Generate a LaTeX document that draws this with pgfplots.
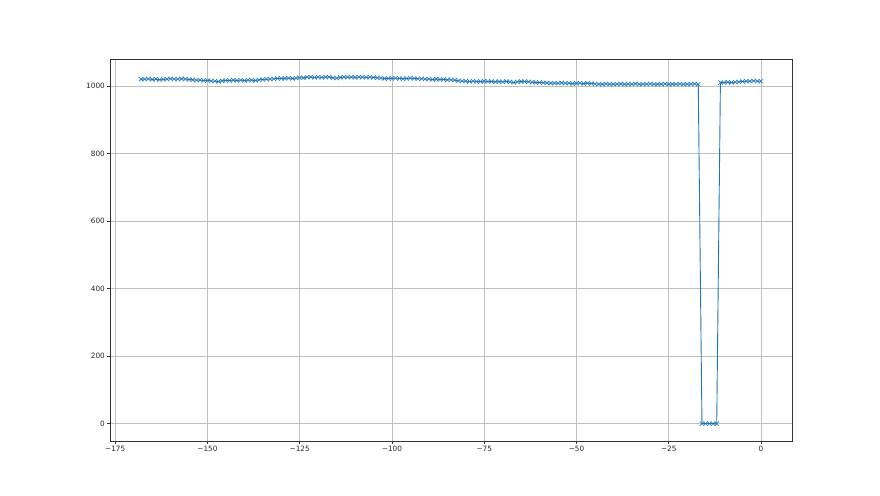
\documentclass[border=0pt]{standalone}
\usepackage{fontspec}
\setmainfont{DejaVu Sans}
\usepackage{pgfplots}
\pgfplotsset{compat=1.18}
\pgfplotstableread{
x y
-168 1020
-167 1020
-166 1021
-165 1019
-164 1020
-163 1018
-162 1019
-161 1020
-160 1021
-159 1020
-158 1020
-157 1021
-156 1020
-155 1019
-154 1018
-153 1017
-152 1017
-151 1016
-150 1016
-149 1015
-148 1014
-147 1013
-146 1015
-145 1016
-144 1016
-143 1017
-142 1016
-141 1017
-140 1016
-139 1017
-138 1017
-137 1016
-136 1018
-135 1019
-134 1020
-133 1020
-132 1021
-131 1022
-130 1022
-129 1022
-128 1023
-127 1022
-126 1023
-125 1024
-124 1024
-123 1026
-122 1026
-121 1025
-120 1026
-119 1025
-118 1026
-117 1026
-116 1024
-115 1023
-114 1025
-113 1026
-112 1026
-111 1026
-110 1025
-109 1026
-108 1026
-107 1025
-106 1026
-105 1025
-104 1024
-103 1023
-102 1022
-101 1022
-100 1022
-99 1023
-98 1022
-97 1021
-96 1022
-95 1023
-94 1022
-93 1021
-92 1021
-91 1020
-90 1020
-89 1019
-88 1020
-87 1019
-86 1019
-85 1018
-84 1018
-83 1017
-82 1015
-81 1014
-80 1014
-79 1013
-78 1014
-77 1013
-76 1013
-75 1014
-74 1013
-73 1013
-72 1012
-71 1013
-70 1012
-69 1013
-68 1012
-67 1010
-66 1012
-65 1013
-64 1013
-63 1012
-62 1011
-61 1010
-60 1010
-59 1009
-58 1009
-57 1008
-56 1008
-55 1008
-54 1009
-53 1008
-52 1008
-51 1007
-50 1008
-49 1008
-48 1007
-47 1008
-46 1007
-45 1006
-44 1005
-43 1005
-42 1006
-41 1005
-40 1005
-39 1005
-38 1006
-37 1005
-36 1005
-35 1005
-34 1006
-33 1005
-32 1005
-31 1005
-30 1006
-29 1005
-28 1005
-27 1005
-26 1006
-25 1005
-24 1005
-23 1005
-22 1006
-21 1005
-20 1005
-19 1005
-18 1006
-17 1005
-16 0
-15 0
-14 0
-13 0
-12 0
-11 1010
-10 1010
-9 1011
-8 1010
-7 1011
-6 1012
-5 1013
-4 1014
-3 1014
-2 1015
-1 1014
0 1014
}\datatable
\definecolor{mplblue}{RGB}{31,119,180}
\begin{document}
\begin{tikzpicture}[x=1pt,y=1pt]
\useasboundingbox (0,0) rectangle (880,495);
\begin{axis}[
  at={(110pt,54pt)}, anchor=south west,
  scale only axis, width=682pt, height=382pt,
  xmin=-176.4, xmax=8.4, ymin=-51.4, ymax=1079.6,
  xtick={-175,-150,-125,-100,-75,-50,-25,0},
  xticklabels={−175,−150,−125,−100,−75,−50,−25,0},
  ytick={0,200,400,600,800,1000},
  yticklabels={0,200,400,600,800,1000},
  xtick pos=bottom, ytick pos=left,
  grid=major,
  grid style={color=black!25, line width=0.6pt},
  axis line style={line width=0.7pt, color=black!80},
  tick align=outside, major tick length=3pt,
  tick style={color=black!80, line width=0.6pt},
  ticklabel style={font=\fontsize{7.3}{8}\selectfont, text=black!85},
  xticklabel style={inner sep=1.5pt},
  yticklabel style={inner sep=2pt},
]
\addplot[color=mplblue, line width=0.9pt, mark=x, mark size=3pt, mark options={line width=0.55pt}] table[x=x, y=y] {\datatable};
\end{axis}
\end{tikzpicture}
\end{document}
